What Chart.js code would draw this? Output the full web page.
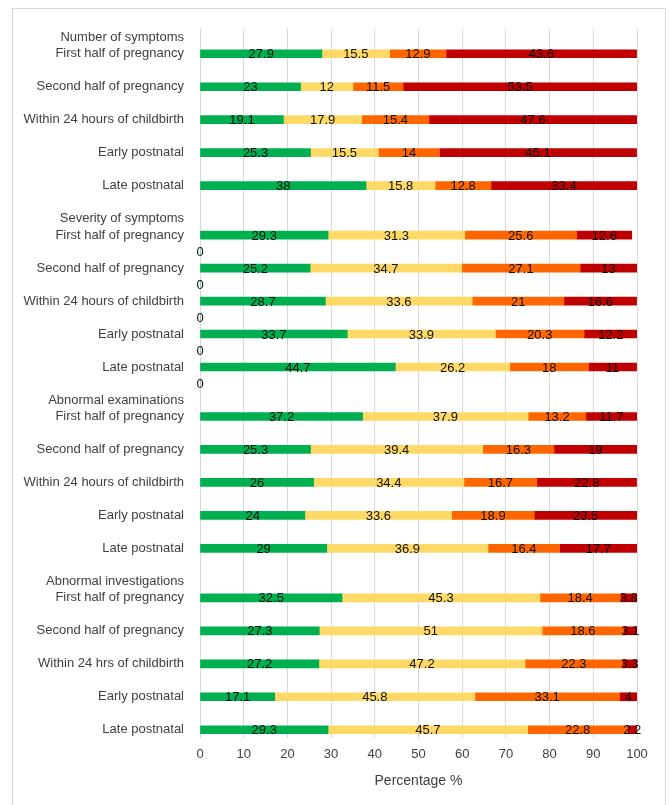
<!DOCTYPE html>
<html>
<head>
<meta charset="utf-8">
<script src="https://cdn.jsdelivr.net/npm/chart.js@4.4.1/dist/chart.umd.min.js"></script>
<style>
  html, body { margin: 0; padding: 0; background: #ffffff; overflow: hidden; }
  #wrap { position: relative; width: 670px; height: 805px; }
  #frame { position: absolute; left: 12px; top: 8px; width: 654px; height: 820px; border: 1px solid #d9d9d9; box-sizing: border-box; }
  #c { position: absolute; left: 0; top: 0; }
</style>
</head>
<body>
<div id="wrap">
  <div id="frame"></div>
  <canvas id="c" width="670" height="805"></canvas>
</div>
<script>
// ---- Data ----
const groupTitles = ["Number of symptoms", "Severity of symptoms", "Abnormal examinations", "Abnormal investigations"];
const categories = [
  "First half of pregnancy", "Second half of pregnancy", "Within 24 hours of childbirth", "Early postnatal", "Late postnatal",
  "First half of pregnancy", "Second half of pregnancy", "Within 24 hours of childbirth", "Early postnatal", "Late postnatal",
  "First half of pregnancy", "Second half of pregnancy", "Within 24 hours of childbirth", "Early postnatal", "Late postnatal",
  "First half of pregnancy", "Second half of pregnancy", "Within 24 hrs of childbirth", "Early postnatal", "Late postnatal"
];
const greenValues  = [27.9, 23, 19.1, 25.3, 38,   29.3, 25.2, 28.7, 33.7, 44.7,  37.2, 25.3, 26, 24, 29,        32.5, 27.3, 27.2, 17.1, 29.3];
const yellowValues = [15.5, 12, 17.9, 15.5, 15.8, 31.3, 34.7, 33.6, 33.9, 26.2,  37.9, 39.4, 34.4, 33.6, 36.9,  45.3, 51, 47.2, 45.8, 45.7];
const orangeValues = [12.9, 11.5, 15.4, 14, 12.8, 25.6, 27.1, 21, 20.3, 18,      13.2, 16.3, 16.7, 18.9, 16.4,  18.4, 18.6, 22.3, 33.1, 22.8];
const redValues    = [43.6, 53.5, 47.6, 45.1, 33.4, 12.6, 13, 16.6, 12.2, 11,     11.7, 19, 22.8, 23.5, 17.7,    3.8, 3.1, 3.3, 4, 2.2];
// stray zero values shown under each "Severity of symptoms" bar
const zeroGroupIndex = 1;
const zeroValues = [0, 0, 0, 0, 0];
const xTicks = [0, 10, 20, 30, 40, 50, 60, 70, 80, 90, 100];

// ---- Build half-row layout: per group 1 title row + 10 rows (bar, gap alternating) ----
const perGroup = 5;
const rowsPerGroup = 1 + perGroup * 2;
const nRows = groupTitles.length * rowsPerGroup - 1;
const rowLabels = new Array(nRows).fill("");
function emptyRows() { return new Array(nRows).fill(null); }
const rowsG = emptyRows(), rowsY = emptyRows(), rowsO = emptyRows(), rowsR = emptyRows(), rowsZ = emptyRows();
groupTitles.forEach((t, g) => {
  rowLabels[g * rowsPerGroup] = t;
  for (let k = 0; k < perGroup; k++) {
    const i = g * perGroup + k;
    const r = g * rowsPerGroup + 1 + 2 * k;
    rowLabels[r] = categories[i];
    rowsG[r] = greenValues[i];
    rowsY[r] = yellowValues[i];
    rowsO[r] = orangeValues[i];
    rowsR[r] = redValues[i];
    if (g === zeroGroupIndex && r + 1 < nRows) rowsZ[r + 1] = zeroValues[k];
  }
});

const FONT = "'Liberation Sans', Arial, sans-serif";

const labelPlugin = {
  id: 'barLabels',
  afterDatasetsDraw(chart) {
    const ctx = chart.ctx;
    ctx.save();
    ctx.font = "13px " + FONT;
    ctx.fillStyle = "#111111";
    ctx.textAlign = "center";
    ctx.textBaseline = "middle";
    chart.data.datasets.forEach((ds, di) => {
      const meta = chart.getDatasetMeta(di);
      meta.data.forEach((el, idx) => {
        const v = ds.data[idx];
        if (v === null || v === undefined) return;
        const cx = (el.x + el.base) / 2;
        ctx.fillText(String(v), cx, el.y + 1);
      });
    });
    ctx.restore();
  }
};

const mk = (label, data, color) => ({
  label, data, backgroundColor: color, borderWidth: 0, barThickness: 8
});

new Chart(document.getElementById('c'), {
  type: 'bar',
  data: {
    labels: rowLabels,
    datasets: [
      mk("Green", rowsG, "#00B050"),
      mk("Yellow", rowsY, "#FFD966"),
      mk("Orange", rowsO, "#FF6600"),
      mk("Red", rowsR, "#C00000"),
      mk("Zero", rowsZ, "#00B050")
    ]
  },
  options: {
    indexAxis: 'y',
    responsive: false,
    animation: false,
    events: [],
    layout: { padding: { left: 0, right: 33, top: 29, bottom: 0 } },
    plugins: { legend: { display: false }, tooltip: { enabled: false } },
    scales: {
      x: {
        stacked: true,
        min: 0, max: 100,
        afterBuildTicks(scale) { scale.ticks = xTicks.map(v => ({ value: v })); },
        afterFit(scale) { scale.height = 67; },
        grid: { color: "#d9d9d9", lineWidth: 1, drawTicks: false },
        border: { display: false },
        ticks: { padding: 9, color: "#404040", font: { family: FONT, size: 13 } },
        title: { display: true, text: "Percentage %", color: "#404040", font: { family: FONT, size: 14 }, padding: { top: 4, bottom: 15 } }
      },
      y: {
        stacked: true,
        afterFit(scale) { scale.width = 200; },
        grid: { display: false, drawTicks: false },
        border: { display: false },
        ticks: { autoSkip: false, padding: 16, color: "#404040", font: { family: FONT, size: 13 } }
      }
    }
  },
  plugins: [labelPlugin]
});
</script>
</body>
</html>
